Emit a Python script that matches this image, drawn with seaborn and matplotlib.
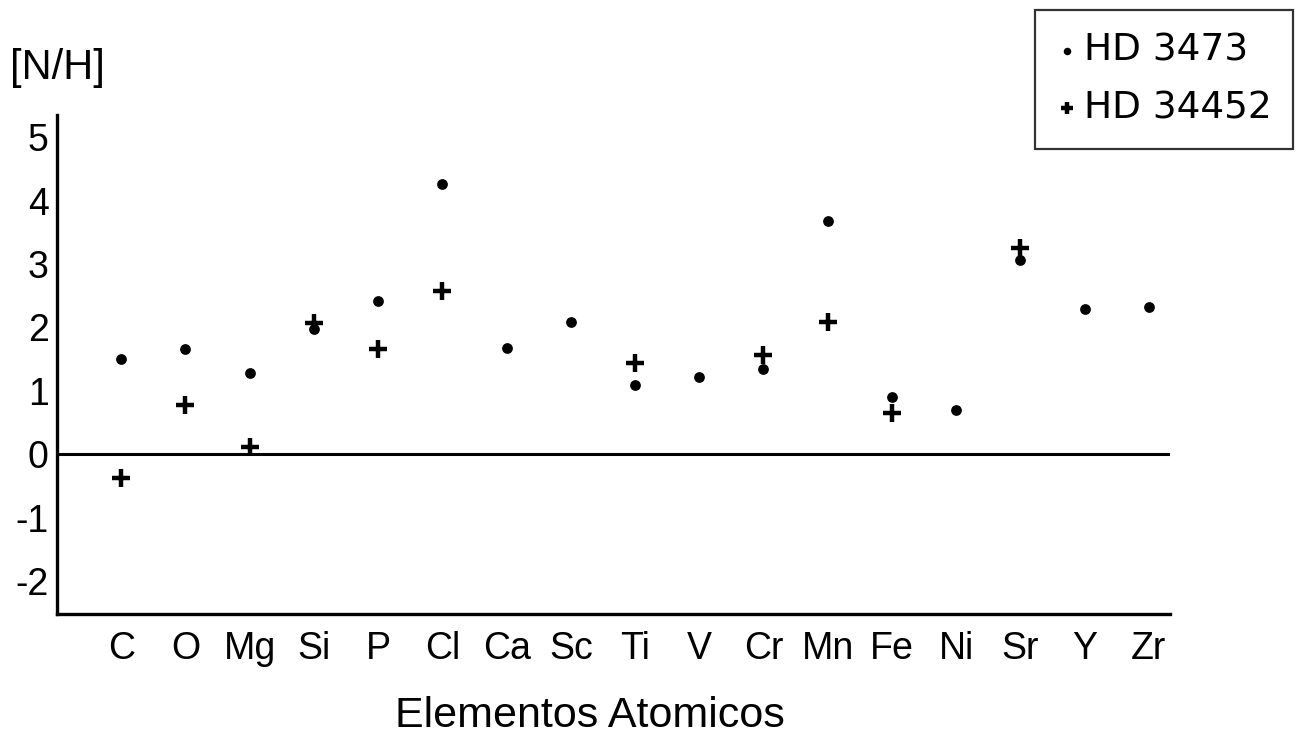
import matplotlib
matplotlib.use("Agg")
import matplotlib.pyplot as plt
from matplotlib import font_manager
import numpy as np
import pandas as pd
import seaborn as sns

elements = ["C", "O", "Mg", "Si", "P", "Cl", "Ca", "Sc", "Ti", "V",
            "Cr", "Mn", "Fe", "Ni", "Sr", "Y", "Zr"]
hd3473 = [1.50, 1.66, 1.28, 1.97, 2.41, 4.26, 1.67, 2.08, 1.09, 1.21,
          1.34, 3.68, 0.90, 0.69, 3.06, 2.29, 2.32]
hd34452 = [-0.38, 0.77, 0.11, 2.07, 1.66, 2.57, np.nan, np.nan, 1.44, np.nan,
           1.56, 2.08, 0.65, np.nan, 3.25, np.nan, np.nan]
series_names = ["HD 3473", "HD 34452"]
yticks = [-2, -1, 0, 1, 2, 3, 4, 5]

sns.set_theme(style="white")
names = {f.name for f in font_manager.fontManager.ttflist}
narrow = "Liberation Sans Narrow" if "Liberation Sans Narrow" in names else "Liberation Sans"
plt.rcParams["font.family"] = ["Liberation Sans", "DejaVu Sans"]

df1 = pd.DataFrame({"element": elements, "value": hd3473})
df2 = pd.DataFrame({"element": elements, "value": hd34452})

fig = plt.figure(figsize=(13, 7.51), dpi=100)
ax = fig.add_axes([57/1300, 1-614/751, (1170-57)/1300, (614-115)/751])

sns.scatterplot(data=df1, x="element", y="value", ax=ax, marker="o",
                color="black", s=60, linewidth=0, label=series_names[0], zorder=3)
sns.scatterplot(data=df2.dropna(), x="element", y="value", ax=ax, marker="+",
                color="black", s=170, linewidth=3.2, label=series_names[1], zorder=3)

ax.axhline(0, color="black", lw=2.2, zorder=2)
ax.set_xlim(-1.0, 16.33)
ax.set_ylim(-2.52, 5.35)
ax.set_yticks(yticks)
ax.set_yticklabels([str(t) for t in yticks])

for s in ["top", "right"]:
    ax.spines[s].set_visible(False)
for s in ["left", "bottom"]:
    ax.spines[s].set_color("black")
    ax.spines[s].set_linewidth(2.4)

ax.tick_params(axis="both", direction="in", length=6, width=1.5, color="black")
ax.tick_params(axis="x", pad=12)
ax.tick_params(axis="y", pad=6)
for lab in ax.get_xticklabels() + ax.get_yticklabels():
    lab.set_fontfamily([narrow, "DejaVu Sans"])
    lab.set_fontsize(27)
    lab.set_color("black")

ax.set_xlabel("Elementos Atomicos", fontsize=31, color="black")
ax.xaxis.set_label_coords(0.479, -0.165)
ax.set_ylabel("[N/H]", fontsize=30, rotation=0, color="black", ha="center", va="center")
ax.yaxis.set_label_coords(0.0, 1.094)

handles, labels = ax.get_legend_handles_labels()
ax.get_legend().remove()
leg = fig.legend(handles, labels, loc="upper left",
                 bbox_to_anchor=(1035/1300, 1-10/751, 258/1300, 0), mode="expand",
                 borderaxespad=0, markerscale=0.7,
                 handlelength=0.5, handletextpad=0.2, labelspacing=0.58,
                 borderpad=0.6, fancybox=False, frameon=True,
                 prop={"family": ["DejaVu Sans"], "size": 27})
leg.get_frame().set_edgecolor("black")
leg.get_frame().set_linewidth(1.6)
for t in leg.get_texts():
    t.set_color("black")

fig.savefig("out.png", dpi=100, facecolor="white")
